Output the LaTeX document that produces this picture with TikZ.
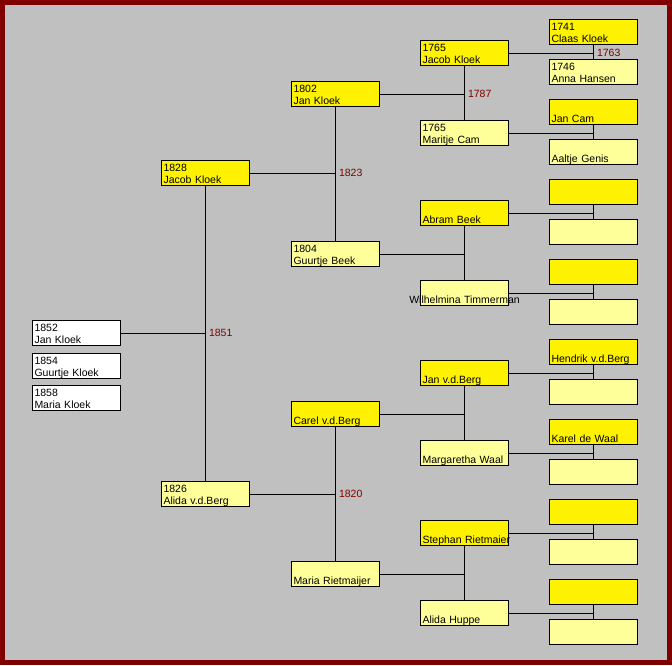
\documentclass[tikz,border=0pt]{standalone}
\usepackage{fontspec}
\setmainfont{Liberation Sans}
\usetikzlibrary{positioning}
\definecolor{framered}{HTML}{800000}
\definecolor{pale}{HTML}{FFFF99}
\definecolor{bggray}{HTML}{C0C0C0}
\newcommand\entry[2]{\rule{0pt}{11pt}#1\\\mbox{#2}\rule[-2pt]{0pt}{2pt}}
\begin{document}
\begin{tikzpicture}[x=1pt,y=-1pt,line width=1pt,
  box/.style={draw,minimum width=88pt,minimum height=25pt,inner sep=0pt,
    text width=84pt,align=left,anchor=north west,font=\fontsize{10.5}{12}\selectfont},
  kid/.style={box,fill=white},
  man/.style={box,fill=yellow},
  woman/.style={box,fill=pale},
  year/.style={text=framered,inner sep=0pt,font=\fontsize{10.5}{12}\selectfont}]
  \fill[framered] (0,0) rectangle (672,665);
  \fill[bggray] (5,5) rectangle (667,660);
  \node[kid] (c1) at (32,320) {\entry{1852}{Jan Kloek}};
  \node[kid] (c2) at (32,353) {\entry{1854}{Guurtje Kloek}};
  \node[kid] (c3) at (32,385) {\entry{1858}{Maria Kloek}};
  \node[man] (f) at (161,160) {\entry{1828}{Jacob Kloek}};
  \node[woman] (m) at (161,481) {\entry{1826}{Alida v.d.Berg}};
  \node[man] (ff) at (291,81) {\entry{1802}{Jan Kloek}};
  \node[woman] (fm) at (291,241) {\entry{1804}{Guurtje Beek}};
  \node[man] (mf) at (291,401) {\entry{}{Carel v.d.Berg}};
  \node[woman] (mm) at (291,561) {\entry{}{Maria Rietmaijer}};
  \node[man] (fff) at (420,40) {\entry{1765}{Jacob Kloek}};
  \node[woman] (ffm) at (420,120) {\entry{1765}{Maritje Cam}};
  \node[man] (fmf) at (420,200) {\entry{}{Abram Beek}};
  \node[woman] (fmm) at (420,280) {\entry{}{\makebox[84pt][c]{Wilhelmina Timmerman}}};
  \node[man] (mff) at (420,360) {\entry{}{Jan v.d.Berg}};
  \node[woman] (mfm) at (420,440) {\entry{}{Margaretha Waal}};
  \node[man] (mmf) at (420,520) {\entry{}{Stephan Rietmaier}};
  \node[woman] (mmm) at (420,600) {\entry{}{Alida Huppe}};
  \node[man] (ffff) at (549,19) {\entry{1741}{Claas Kloek}};
  \node[woman] (fffm) at (549,59) {\entry{1746}{Anna Hansen}};
  \node[man] (ffmf) at (549,99) {\entry{}{Jan Cam}};
  \node[woman] (ffmm) at (549,139) {\entry{}{Aaltje Genis}};
  \node[man] (fmff) at (549,179) {\entry{}{}};
  \node[woman] (fmfm) at (549,219) {\entry{}{}};
  \node[man] (fmmf) at (549,259) {\entry{}{}};
  \node[woman] (fmmm) at (549,299) {\entry{}{}};
  \node[man] (mfff) at (549,339) {\entry{}{Hendrik v.d.Berg}};
  \node[woman] (mffm) at (549,379) {\entry{}{}};
  \node[man] (mfmf) at (549,419) {\entry{}{Karel de Waal}};
  \node[woman] (mfmm) at (549,459) {\entry{}{}};
  \node[man] (mmff) at (549,499) {\entry{}{}};
  \node[woman] (mmfm) at (549,539) {\entry{}{}};
  \node[man] (mmmf) at (549,579) {\entry{}{}};
  \node[woman] (mmmm) at (549,619) {\entry{}{}};
  \draw (f.south) -- (m.north) (c1.east) -- (c1.east -| f.south);
  \foreach \x in {f,m,ff,fm,mf,mm,fff,ffm,fmf,fmm,mff,mfm,mmf,mmm}
    \draw (\x f.south) -- (\x m.north) (\x.east) -- (\x.east -| \x f.south);
  \coordinate (j1) at (c1.east -| f.south);
  \coordinate (j2) at (f.east -| ff.south);
  \coordinate (j3) at (m.east -| mf.south);
  \coordinate (j4) at (ff.east -| fff.south);
  \coordinate (j5) at (fff.east -| ffff.south);
  \node[year,right=3pt of j1] (y1) {1851};
  \node[year,right=3pt of j2] (y2) {1823};
  \node[year,right=3pt of j3] (y3) {1820};
  \node[year,right=3pt of j4] (y4) {1787};
  \node[year,right=3pt of j5] (y5) {1763};
\end{tikzpicture}
\end{document}
